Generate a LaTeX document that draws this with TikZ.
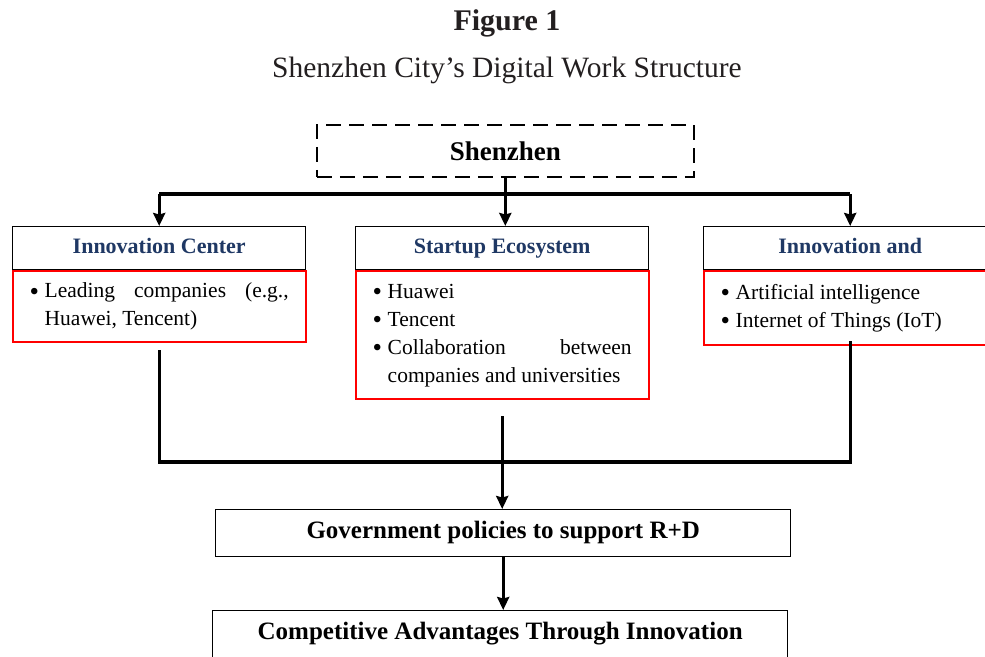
\documentclass[tikz,border=0pt]{standalone}
\usepackage{fontspec}
\setmainfont{Liberation Serif}
\usetikzlibrary{positioning,arrows.meta}
\definecolor{navy}{RGB}{31,56,100}
\definecolor{ink}{RGB}{35,31,32}
\newcommand\bul[1]{\noindent\hangindent=15pt\hangafter=1\makebox[15pt][l]{\smash{\raisebox{-2.5pt}{\fontsize{27}{28}\selectfont\textbullet}}}#1\par}
\tikzset{
  hub/.style={draw,line width=1.4pt,minimum width=293pt,minimum height=43pt,inner sep=0pt,
    text height=15pt,text depth=4pt,anchor=north west,text=navy,font=\fontsize{22}{24}\selectfont\bfseries},
  list/.style={draw=red,line width=1.6pt,fill=white,minimum width=293pt,inner xsep=17pt,
    text width=259pt,align=justify,anchor=north,font=\fontsize{21.5}{28}\selectfont},
  plainbox/.style={draw,line width=1.4pt,minimum height=47pt,inner sep=0pt,anchor=north west,
    text height=16pt,text depth=5pt,font=\fontsize{25}{27}\selectfont\bfseries},
  conn/.style={line width=3.2pt},
  arr/.style={conn,-{Stealth[length=13pt,width=12pt,inset=1.5pt]}}
}
\begin{document}
\begin{tikzpicture}[x=1pt,y=-1pt]
\useasboundingbox (0,0) rectangle (985,656);
\node[text=ink,font=\fontsize{30}{32}\selectfont\bfseries] (fig) at (507,23) {Figure 1};
\node[text=ink,font=\fontsize{29.5}{32}\selectfont] (title) at (507,70) {Shenzhen City’s Digital Work Structure};
\node[draw,line width=1.6pt,dash pattern=on 15pt off 8pt,minimum width=377pt,minimum height=52pt,
  anchor=north west,font=\fontsize{27}{29}\selectfont\bfseries] (city) at (316,124) {Shenzhen};
% three columns
\node[hub] (hubL) at (12,226) {Innovation Center};
\node[hub] (hubM) at (355,226) {Startup Ecosystem};
\node[hub] (hubR) at (703,226) {Innovation and};
\node[list,minimum height=71pt] (listL) at (hubL.south) {\bul{Leading companies (e.g.,\linebreak Huawei, Tencent)}};
\node[list,minimum height=128pt] (listM) at (hubM.south) {\bul{Huawei}\bul{Tencent}\bul{Collaboration between\linebreak companies and universities}};
\node[list,minimum height=74pt] (listR) at (hubR.south) {\bul{Artificial intelligence}\bul{Internet of Things (IoT)}};
% bottom boxes
\node[plainbox,minimum width=575pt] (gov) at (215,509) {Government policies to support R+D};
\node[plainbox,minimum width=575pt] (adv) at (212,610) {Competitive Advantages Through Innovation};
\coordinate (split) at (503,194);
\coordinate (join) at (503,462);
\draw[conn] (hubL.north |- split) -- (hubR.north |- split);
\draw[arr] (city.south) -- (city.south |- hubM.north);
\draw[arr] (hubL.north |- split) -- (hubL.north);
\draw[arr] (hubR.north |- split) -- (hubR.north);
\draw[conn] ([yshift=-7pt]listL.south) |- (join);
\draw[conn] ([yshift=5pt]listR.south) |- (join);
\draw[arr] ([yshift=-16pt]listM.south) -- (listM.south |- gov.north);
\draw[arr] (gov.south) -- (gov.south |- adv.north);
\end{tikzpicture}
\end{document}
